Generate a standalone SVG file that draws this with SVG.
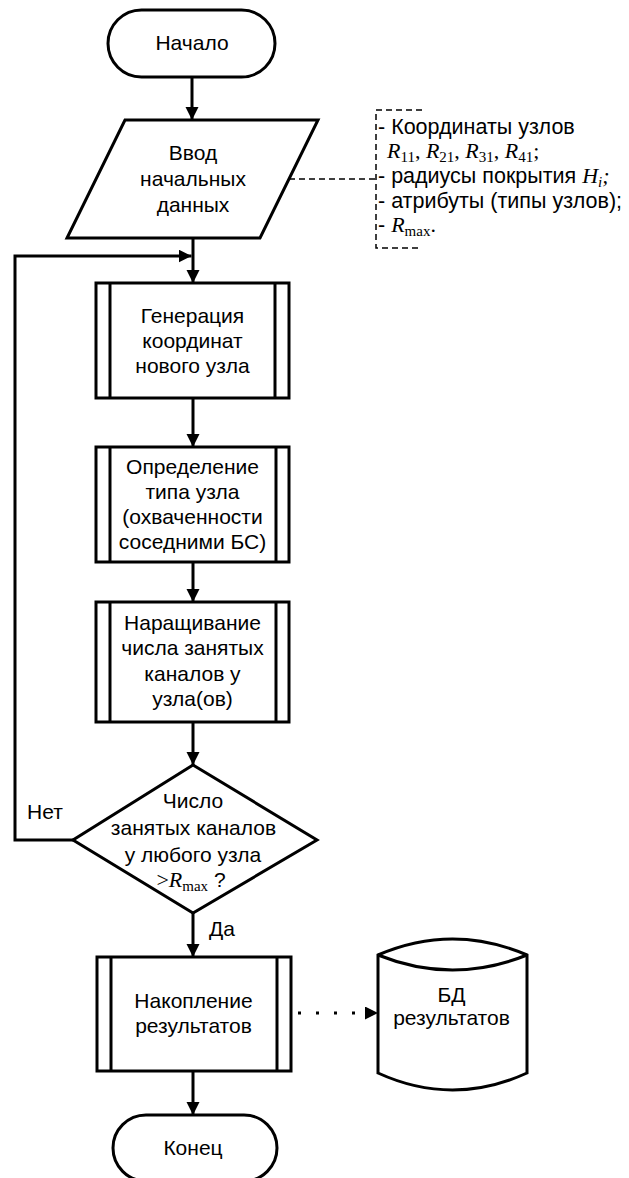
<svg xmlns="http://www.w3.org/2000/svg" width="629" height="1178" viewBox="0 0 629 1178">
<defs>
<marker id="arr" markerUnits="userSpaceOnUse" markerWidth="14" markerHeight="14" refX="13" refY="6.5" orient="auto">
<path d="M0,0 L13,6.5 L0,13 z" fill="#000"/>
</marker>
<style>
.sh{fill:#fff;stroke:#000;stroke-width:3;stroke-linejoin:miter}
.ln{fill:none;stroke:#000;stroke-width:3}
.t{font-family:"Liberation Sans",Arial,sans-serif;font-size:21px;fill:#000;text-anchor:middle}
.ta{font-family:"Liberation Sans",Arial,sans-serif;font-size:21.5px;fill:#000}
.s{font-family:"Liberation Serif","Times New Roman",serif;font-size:22px}
.i{font-style:italic}
.sub{font-family:"Liberation Serif","Times New Roman",serif;font-size:15px}
.dash{fill:none;stroke:#000;stroke-width:1.5;stroke-dasharray:6 4}
</style>
</defs>
<rect width="629" height="1178" fill="#fff"/>

<g id="connectors">
<line class="ln" x1="192" y1="77" x2="192" y2="120" marker-end="url(#arr)"/>
<line class="ln" x1="193" y1="238" x2="193" y2="283" marker-end="url(#arr)"/>
<polyline class="ln" points="73,840 15,840 15,256 191.5,256" marker-end="url(#arr)"/>
<line class="ln" x1="193" y1="398" x2="193" y2="447" marker-end="url(#arr)"/>
<line class="ln" x1="193" y1="562" x2="193" y2="602" marker-end="url(#arr)"/>
<line class="ln" x1="193" y1="722" x2="193" y2="765" marker-end="url(#arr)"/>
<line class="ln" x1="193" y1="913" x2="193" y2="957" marker-end="url(#arr)"/>
<line class="ln" x1="193" y1="1071" x2="193" y2="1115" marker-end="url(#arr)"/>
<line x1="298" y1="1013" x2="378" y2="1013" stroke="#000" stroke-width="3" stroke-dasharray="3 15" marker-end="url(#arr)"/>
<line class="dash" x1="289" y1="179" x2="376" y2="179"/>
<path class="dash" d="M422,110 H376 V248 H422"/>
<text class="t" x="45" y="819">Нет</text>
<text class="t" x="222" y="936">Да</text>
</g>

<g id="start">
<rect class="sh" x="108" y="10" width="167" height="67" rx="33.5"/>
<text class="t" x="192" y="50">Начало</text>
</g>

<g id="input">
<polygon class="sh" points="125,120 318,120 260,238 67,238"/>
<text class="t" x="193" y="160">Ввод</text>
<text class="t" x="193" y="186">начальных</text>
<text class="t" x="193" y="212">данных</text>
</g>

<g id="annotation">
<text class="ta" x="378" y="134">- Координаты узлов</text>
<text class="ta s" x="387" y="158"><tspan class="i">R</tspan><tspan class="sub" dy="4">11</tspan><tspan dy="-4">, </tspan><tspan class="i">R</tspan><tspan class="sub" dy="4">21</tspan><tspan dy="-4">, </tspan><tspan class="i">R</tspan><tspan class="sub" dy="4">31</tspan><tspan dy="-4">, </tspan><tspan class="i">R</tspan><tspan class="sub" dy="4">41</tspan><tspan dy="-4">;</tspan></text>
<text class="ta" x="378" y="183">- радиусы покрытия <tspan class="s i">H</tspan><tspan class="sub i" dy="4">i</tspan><tspan class="s i" dy="-4">;</tspan></text>
<text class="ta" x="378" y="208">- атрибуты (типы узлов);</text>
<text class="ta" x="378" y="232">- <tspan class="s i">R</tspan><tspan class="sub" dy="4">max</tspan><tspan class="s" dy="-4">.</tspan></text>
</g>

<g id="gen">
<rect class="sh" x="96" y="283" width="193" height="115"/>
<line class="ln" x1="110" y1="283" x2="110" y2="398"/>
<line class="ln" x1="275" y1="283" x2="275" y2="398"/>
<text class="t" x="192.5" y="323">Генерация</text>
<text class="t" x="192.5" y="348">координат</text>
<text class="t" x="192.5" y="373">нового узла</text>
</g>

<g id="type">
<rect class="sh" x="96" y="447" width="193" height="115"/>
<line class="ln" x1="110" y1="447" x2="110" y2="562"/>
<line class="ln" x1="276" y1="447" x2="276" y2="562"/>
<text class="t" x="192.5" y="474">Определение</text>
<text class="t" x="192.5" y="499">типа узла</text>
<text class="t" x="192.5" y="524">(охваченности</text>
<text class="t" x="192.5" y="549">соседними БС)</text>
</g>

<g id="inc">
<rect class="sh" x="96" y="602" width="193" height="120"/>
<line class="ln" x1="110" y1="602" x2="110" y2="722"/>
<line class="ln" x1="276" y1="602" x2="276" y2="722"/>
<text class="t" x="192.5" y="630">Наращивание</text>
<text class="t" x="192.5" y="655">числа занятых</text>
<text class="t" x="192.5" y="681">каналов у</text>
<text class="t" x="192.5" y="706">узла(ов)</text>
</g>

<g id="decision">
<polygon class="sh" points="193,765 317,840 193,913 73,840"/>
<text class="t" x="193" y="808">Число</text>
<text class="t" x="193.5" y="835">занятых каналов</text>
<text class="t" x="193" y="862">у любого узла</text>
<text class="t" x="191" y="887"><tspan class="s">&gt;</tspan><tspan class="s i">R</tspan><tspan class="sub" dy="4">max</tspan><tspan dy="-4"> ?</tspan></text>
</g>

<g id="accum">
<rect class="sh" x="97" y="957" width="194" height="114"/>
<line class="ln" x1="111" y1="957" x2="111" y2="1071"/>
<line class="ln" x1="277" y1="957" x2="277" y2="1071"/>
<text class="t" x="193.5" y="1008">Накопление</text>
<text class="t" x="193.5" y="1033">результатов</text>
</g>

<g id="db">
<path class="sh" d="M378,955 Q452.5,923 527,955 L527,1073 Q452.5,1107 378,1073 Z"/>
<path class="ln" d="M378,955 Q452.5,985 527,955"/>
<text class="t" x="451.5" y="1002">БД</text>
<text class="t" x="451.5" y="1025">результатов</text>
</g>

<g id="end">
<rect class="sh" x="113" y="1115" width="164" height="66" rx="33"/>
<text class="t" x="193" y="1155">Конец</text>
</g>
</svg>
